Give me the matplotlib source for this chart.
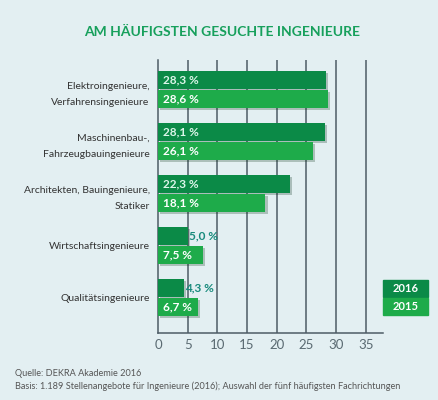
import matplotlib.pyplot as plt
import matplotlib.patheffects as pe
from matplotlib.patches import Rectangle

# data
categories = [
    "Elektroingenieure,\nVerfahrensingenieure",
    "Maschinenbau-,\nFahrzeugbauingenieure",
    "Architekten, Bauingenieure,\nStatiker",
    "Wirtschaftsingenieure",
    "Qualitätsingenieure",
]
values_2016 = [28.3, 28.1, 22.3, 5.0, 4.3]
values_2015 = [28.6, 26.1, 18.1, 7.5, 6.7]
years = ["2016", "2015"]
xticks = [0, 5, 10, 15, 20, 25, 30, 35]

BG = "#e3eff2"
DARK = "#0b8a47"
LIGHT = "#1eab4a"
GRID = "#4d5c66"
TEAL = "#178a7c"

plt.rcParams["font.family"] = ["Lato", "DejaVu Sans"]

fig = plt.figure(figsize=(4.39, 4.0), dpi=100, facecolor=BG)
ax = fig.add_axes([158 / 439, 1 - 333 / 400, (383 - 158) / 439, (333 - 60) / 400])
ax.set_facecolor(BG)

h = 0.35
off = 0.18
ypos = list(range(len(categories)))
shadow = [pe.SimplePatchShadow(offset=(1.5, -1.5), alpha=0.25), pe.Normal()]

for i, (v16, v15) in enumerate(zip(values_2016, values_2015)):
    b1 = ax.barh(i - off, v16, height=h, color=DARK, zorder=3)
    b2 = ax.barh(i + off, v15, height=h, color=LIGHT, zorder=3)
    for b in list(b1) + list(b2):
        b.set_path_effects(shadow)
    for v, y, inside_col in ((v16, i - off, "#dcf6ea"), (v15, i + off, "white")):
        txt = f"{v:.1f} %".replace(".", ",")
        if v > 6:
            ax.text(0.8, y, txt, color=inside_col, fontsize=8.5, fontweight="bold",
                    va="center", ha="left", zorder=4)
        else:
            ax.text(v + 0.2, y, txt, color=TEAL, fontsize=8.5, fontweight="bold",
                    va="center", ha="left", zorder=4)

ax.set_ylim(4.68, -0.57)
ax.set_xlim(0, 37.9)
ax.set_xticks(xticks)
ax.set_xticklabels([str(t) for t in xticks], color="#5a6a72", fontsize=9.5)
ax.tick_params(axis="x", length=0, pad=4)
ax.set_yticks(ypos)
ax.set_yticklabels(categories, color="#333333", fontsize=7.5)
for lab in ax.get_yticklabels():
    lab.set_linespacing(2.1)
ax.tick_params(axis="y", length=0, pad=6)

for t in xticks[1:]:
    ax.axvline(t, color=GRID, lw=1.1, zorder=1)
for s in ["top", "right"]:
    ax.spines[s].set_visible(False)
ax.spines["left"].set_color(GRID)
ax.spines["left"].set_linewidth(1.1)
ax.spines["bottom"].set_color(GRID)
ax.spines["bottom"].set_linewidth(1.1)

fig.text(0.506, 1 - 32 / 400, "AM HÄUFIGSTEN GESUCHTE INGENIEURE", color="#17a05c",
         fontsize=10, fontweight="bold", ha="center", va="center")

# legend boxes
for k, (yr, col) in enumerate(zip(years, [DARK, LIGHT])):
    y0 = 1 - (297 + 18 * k) / 400
    fig.add_artist(Rectangle((383 / 439, y0), 45 / 439, 17 / 400, transform=fig.transFigure,
                             color=col))
    fig.text(405.5 / 439, y0 + 8.5 / 400, yr, color="white", fontsize=8, fontweight="bold",
             ha="center", va="center")

fig.text(15 / 439, 1 - 373 / 400, "Quelle: DEKRA Akademie 2016", color="#555555",
         fontsize=6.6, va="center")
fig.text(15 / 439, 1 - 386 / 400,
         "Basis: 1.189 Stellenangebote für Ingenieure (2016); Auswahl der fünf häufigsten Fachrichtungen",
         color="#555555", fontsize=6.6, va="center")

fig.savefig("out.png", dpi=100, facecolor=BG)
